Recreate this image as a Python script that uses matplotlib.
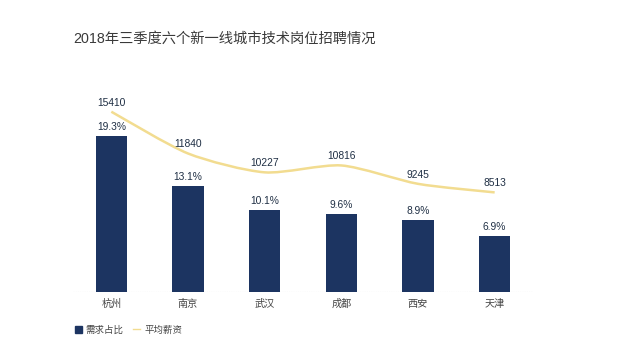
import matplotlib.pyplot as plt
import numpy as np
from matplotlib.path import Path
from matplotlib.patches import PathPatch
from matplotlib.lines import Line2D
from matplotlib.patches import Patch

cities = ["杭州", "南京", "武汉", "成都", "西安", "天津"]
demand_share = [19.3, 13.1, 10.1, 9.6, 8.9, 6.9]
avg_salary = [15410, 11840, 10227, 10816, 9245, 8513]

title = "2018年三季度六个新一线城市技术岗位招聘情况"
bar_color = "#1C3461"
line_color = "#F2DC90"
text_color = "#1F2F44"
fonts = ["Liberation Sans", "Noto Sans CJK SC"]
plt.rcParams["font.family"] = fonts

fig = plt.figure(figsize=(6.41, 3.52), dpi=100)
ax = fig.add_axes([73 / 641, 60 / 352, 460 / 641, 212 / 352])
ax2 = ax.twinx()

x = np.arange(len(cities))
ax.bar(x, demand_share, width=0.41, color=bar_color, zorder=2)
ax.set_xlim(-0.5, len(cities) - 0.5)
ax.set_ylim(0, 26.2)
ax2.set_ylim(0, 18120)

for xi, v in zip(x, demand_share):
    ax.annotate(f"{v}%", (xi, v), xytext=(0, 3), textcoords="offset points",
                ha="center", va="bottom", fontsize=7.4, color=text_color)

# smooth curve through the salary points (cubic bezier, Catmull-Rom style)
pts = np.column_stack([x, avg_salary]).astype(float)
verts = [pts[0]]
codes = [Path.MOVETO]
for i in range(len(pts) - 1):
    p0 = pts[i - 1] if i > 0 else pts[i]
    p1, p2 = pts[i], pts[i + 1]
    p3 = pts[i + 2] if i + 2 < len(pts) else pts[i + 1]
    c1 = p1 + (p2 - p0) / 8
    c2 = p2 - (p3 - p1) / 8
    verts += [c1, c2, p2]
    codes += [Path.CURVE4] * 3
ax2.add_patch(PathPatch(Path(verts, codes), facecolor="none",
                        edgecolor=line_color, lw=1.8, zorder=3))

for xi, v in zip(x, avg_salary):
    ax2.annotate(f"{v}", (xi, v), xytext=(0, 3), textcoords="offset points",
                 ha="center", va="bottom", fontsize=7.4, color=text_color)

for a in (ax, ax2):
    for s in a.spines.values():
        s.set_visible(False)
    a.set_yticks([])
ax.axhline(0, color="#C8C8C8", lw=0.8, ls=(0, (1, 1)), zorder=1)
ax.set_xticks(x)
ax.set_xticklabels(cities, fontsize=7.3, color="#444444")
ax.tick_params(axis="x", length=0, pad=5)

fig.text(73 / 641, 1 - 39 / 352, title, fontsize=10.3, color="#3A3A3A",
         va="center", ha="left")

handles = [Patch(color=bar_color, label="需求占比"),
           Line2D([], [], color=line_color, lw=1, label="平均薪资")]
fig.legend(handles=handles, loc="center left", bbox_to_anchor=(66 / 641, 1 - 330 / 352),
           ncol=2, frameon=False, fontsize=6.8, handlelength=0.75, handleheight=0.75,
           handletextpad=0.4, columnspacing=1.05, labelcolor="#444444")

fig.savefig("out.png", dpi=100)
